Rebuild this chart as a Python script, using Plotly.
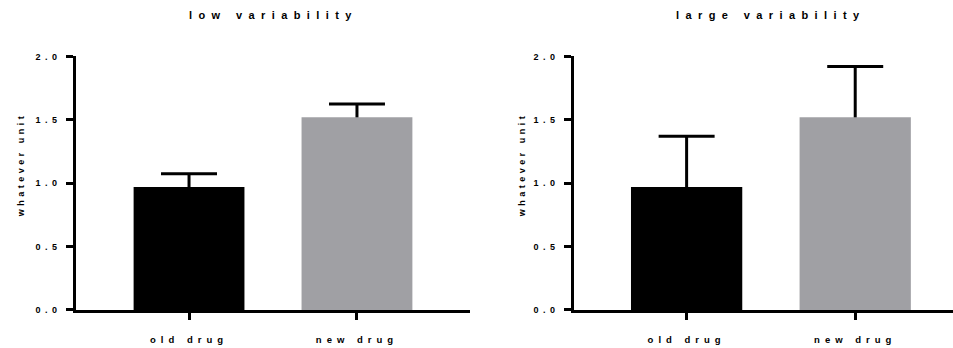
import plotly.graph_objects as go

categories = ["old drug", "new drug"]
low_means = [0.97, 1.52]
low_errors = [0.105, 0.105]
large_means = [0.97, 1.52]
large_errors = [0.40, 0.40]
panel_titles = ["low variability", "large variability"]
y_label = "whatever unit"
y_ticks = [0.0, 0.5, 1.0, 1.5, 2.0]
y_ticktext = ["0.0", "0.5", "1.0", "1.5", "2.0"]
bar_colors = ["#000000", "#a0a0a4"]

W, H = 953, 348
FONT = "Liberation Sans, Arial, sans-serif"


def sp(t, ls=3):
    return '<span style="letter-spacing:%spx">%s</span>' % (ls, t)


fig = go.Figure()

panels = [
    (low_means, low_errors, "x", "y", [76 / W, 470 / W], [-0.673, 1.673]),
    (large_means, large_errors, "x2", "y2", [574 / W, 1.0], [-0.668, 1.58]),
]

xs = list(range(len(categories)))
for means, errs, xa, ya, dom, rng in panels:
    # error bars (upper only); the lower "shoe" is hidden under the bars drawn after
    fig.add_trace(go.Bar(
        x=xs, y=means, xaxis=xa, yaxis=ya, width=0.66,
        marker=dict(color="rgba(0,0,0,0)", line=dict(width=0)),
        error_y=dict(type="data", array=errs, arrayminus=[0.025] * len(errs),
                     symmetric=False, color="#000000", thickness=3, width=28),
        showlegend=False, hoverinfo="skip",
    ))
    fig.add_trace(go.Bar(
        x=xs, y=means, xaxis=xa, yaxis=ya, width=0.66,
        marker=dict(color=bar_colors, line=dict(width=0)),
        showlegend=False, hoverinfo="skip",
    ))

ydom = [(H - 314) / H, (H - 53) / H]

common_x = dict(
    tickmode="array", tickvals=[0, 1], ticktext=[sp(c, 5) for c in categories],
    ticks="outside", ticklen=7, tickwidth=3, tickcolor="#000",
    showline=True, linewidth=2.5, linecolor="#000", showgrid=False, zeroline=False,
    tickfont=dict(family=FONT, size=9.5, color="#000", weight="bold"),
    ticklabelstandoff=12, fixedrange=True,
)
common_y = dict(
    range=[0, 2], tickmode="array", tickvals=y_ticks, ticktext=[sp(t, 4.5) for t in y_ticktext],
    ticks="outside", ticklen=7, tickwidth=2.5, tickcolor="#000",
    showline=True, linewidth=2.5, linecolor="#000", showgrid=False, zeroline=False,
    tickfont=dict(family=FONT, size=9, color="#000", weight="bold"),
    ticklabelstandoff=3, domain=ydom, fixedrange=True,
)

fig.update_layout(
    width=W, height=H, margin=dict(l=0, r=0, t=0, b=0),
    paper_bgcolor="white", plot_bgcolor="white", barmode="overlay",
    xaxis=dict(domain=panels[0][4], range=panels[0][5], anchor="y", **common_x),
    yaxis=dict(anchor="x", **common_y),
    xaxis2=dict(domain=panels[1][4], range=panels[1][5], anchor="y2", **common_x),
    yaxis2=dict(anchor="x2", **common_y),
)

title_x = [273, 771]
ylabel_x = [21, 522]
for i in range(2):
    fig.add_annotation(
        text=sp(panel_titles[i], 6.4), x=title_x[i] / W, y=(H - 10) / H,
        xref="paper", yref="paper", showarrow=False, xanchor="center", yanchor="middle",
        font=dict(family=FONT, size=11, color="#000", weight="bold"),
    )
    fig.add_annotation(
        text=sp(y_label, 3.5), x=ylabel_x[i] / W, y=(H - 165) / H, textangle=-90,
        xref="paper", yref="paper", showarrow=False, xanchor="center", yanchor="middle",
        font=dict(family=FONT, size=9, color="#000", weight="bold"),
    )

fig.write_html("out.html", config={"displayModeBar": False})
